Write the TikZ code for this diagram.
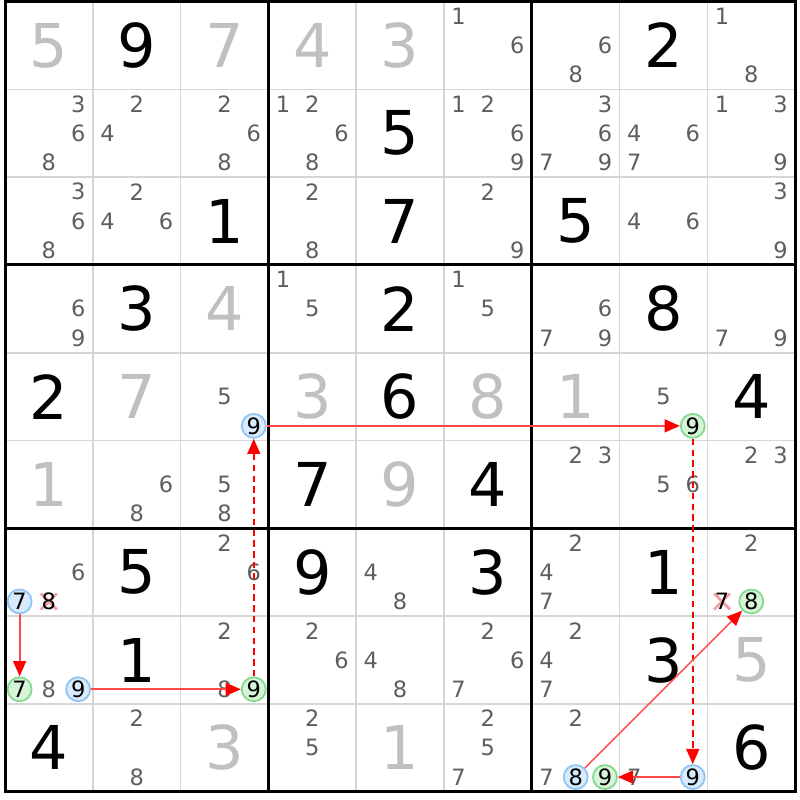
\documentclass[tikz,border=0pt]{standalone}
\usepackage{fontspec}
\setmainfont{DejaVu Sans}
\usetikzlibrary{arrows.meta}
\definecolor{givengray}{HTML}{C0C0C0}
\definecolor{candgray}{HTML}{5E5E5E}
\definecolor{gridgray}{HTML}{D6D6D6}
\definecolor{bluefill}{HTML}{D8EBFC}
\definecolor{blueline}{HTML}{90C4F2}
\definecolor{greenfill}{HTML}{D6F5D8}
\definecolor{greenline}{HTML}{84DA8E}
\definecolor{linkred}{HTML}{FF4848}
\definecolor{strikered}{HTML}{F5A0A8}
\newcommand{\cellsz}{87.8}
\pgfmathdeclarefunction{candx}{2}{\pgfmathparse{5+\cellsz*#1+\cellsz*(2*mod(#2-1,3)+1)/6}}
\pgfmathdeclarefunction{candy}{2}{\pgfmathparse{1.5+\cellsz*#1+\cellsz*(2*div(#2-1,3)+1)/6}}
\pgfmathdeclarefunction{midx}{1}{\pgfmathparse{5+\cellsz*#1+\cellsz/2}}
\pgfmathdeclarefunction{midy}{1}{\pgfmathparse{1.5+\cellsz*#1+\cellsz/2}}

\begin{document}
\begin{tikzpicture}[x=0.25mm, y=-0.25mm,
    given/.style = {font=\fontsize{43}{43}\selectfont, text=givengray},
    solved/.style = {font=\fontsize{43}{43}\selectfont, text=black},
    cand/.style = {font=\fontsize{16}{16}\selectfont, text=candgray, inner sep=0pt},
    bluemark/.style = {cand, text=black, circle, draw=blueline, fill=bluefill, line width=0.45mm, minimum size=6mm},
    greenmark/.style = {bluemark, draw=greenline, fill=greenfill},
    crossed/.style = {cand, text=black},
    strike/.style = {strikered, line width=0.7mm},
    link/.style = {draw=linkred, line width=0.45mm, -{Triangle[length=3.8mm, width=3.2mm, color=red]}},
    weak/.style = {link, draw=red, dash pattern=on 1.6mm off 1.1mm, line width=0.5mm}]

    \fill[white] (0,0) rectangle (800,800);
    \useasboundingbox (0,0) rectangle (800,800);

    \foreach \i in {1,2,4,5,7,8} {
        \draw[gridgray, line width=0.4mm] ({5+\cellsz*\i},1.5) -- ({5+\cellsz*\i},{1.5+9*\cellsz});
        \draw[gridgray, line width=0.4mm] (5,{1.5+\cellsz*\i}) -- ({5+9*\cellsz},{1.5+\cellsz*\i});
    }
    \foreach \i in {0,3,6,9} {
        \draw[black, line width=0.75mm, line cap=rect] ({5+\cellsz*\i},1.5) -- ({5+\cellsz*\i},{1.5+9*\cellsz});
        \draw[black, line width=0.75mm, line cap=rect] (5,{1.5+\cellsz*\i}) -- ({5+9*\cellsz},{1.5+\cellsz*\i});
    }

    \foreach \r/\c/\d in {0/0/5, 0/2/7, 0/3/4, 0/4/3, 3/2/4, 4/1/7, 4/3/3, 4/5/8, 4/6/1,
                          5/0/1, 5/4/9, 7/8/5, 8/2/3, 8/4/1}
        \node[given] (g\r\c) at ({midx(\c)},{midy(\r)}) {\d};

    \foreach \r/\c/\d in {0/1/9, 0/7/2, 1/4/5, 2/2/1, 2/4/7, 2/6/5, 3/1/3, 3/4/2, 3/7/8,
                          4/0/2, 4/4/6, 4/8/4, 5/3/7, 5/5/4, 6/1/5, 6/3/9, 6/5/3, 6/7/1,
                          7/1/1, 7/7/3, 8/0/4, 8/8/6}
        \node[solved] (s\r\c) at ({midx(\c)},{midy(\r)}) {\d};

    \foreach \r/\c/\ds in {0/5/{1,6}, 0/6/{6,8}, 0/8/{1,8},
                           1/0/{3,6,8}, 1/1/{2,4}, 1/2/{2,6,8}, 1/3/{1,2,6,8}, 1/5/{1,2,6,9},
                           1/6/{3,6,7,9}, 1/7/{4,6,7}, 1/8/{1,3,9},
                           2/0/{3,6,8}, 2/1/{2,4,6}, 2/3/{2,8}, 2/5/{2,9}, 2/7/{4,6}, 2/8/{3,9},
                           3/0/{6,9}, 3/3/{1,5}, 3/5/{1,5}, 3/6/{6,7,9}, 3/8/{7,9},
                           4/2/{5}, 4/7/{5},
                           5/1/{6,8}, 5/2/{5,8}, 5/6/{2,3}, 5/7/{5,6}, 5/8/{2,3},
                           6/0/{6}, 6/2/{2,6}, 6/4/{4,8}, 6/6/{2,4,7}, 6/8/{2},
                           7/0/{8}, 7/2/{2,8}, 7/3/{2,6}, 7/4/{4,8}, 7/5/{2,6,7}, 7/6/{2,4,7},
                           8/1/{2,8}, 8/3/{2,5}, 8/5/{2,5,7}, 8/6/{2,7}, 8/7/{7}}
        \foreach \d in \ds
            \node[cand] (n\r\c\d) at ({candx(\c,\d)},{candy(\r,\d)}) {\d};

    \foreach \r/\c/\d in {6/0/8, 6/8/7} {
        \draw[strike] ({candx(\c,\d)-8},{candy(\r,\d)-8}) -- ({candx(\c,\d)+8},{candy(\r,\d)+8});
        \draw[strike] ({candx(\c,\d)-8},{candy(\r,\d)+8}) -- ({candx(\c,\d)+8},{candy(\r,\d)-8});
        \node[crossed] (n\r\c\d) at ({candx(\c,\d)},{candy(\r,\d)}) {\d};
    }

    \foreach \r/\c/\d/\mk in {4/2/9/bluemark, 4/7/9/greenmark, 6/0/7/bluemark, 7/0/7/greenmark,
                              7/0/9/bluemark, 7/2/9/greenmark, 6/8/8/greenmark, 8/6/8/bluemark,
                              8/6/9/greenmark, 8/7/9/bluemark}
        \node[\mk] (n\r\c\d) at ({candx(\c,\d)},{candy(\r,\d)}) {\d};

    \draw[link] (n607) -- (n707);
    \draw[link] (n709) -- (n729);
    \draw[weak] (n729) -- (n429);
    \draw[link] (n429) -- (n479);
    \draw[weak] (n479) -- (n879);
    \draw[link] (n879) -- (n869);
    \draw[link, line width=0.35mm] (n868) -- (n688);
\end{tikzpicture}
\end{document}
